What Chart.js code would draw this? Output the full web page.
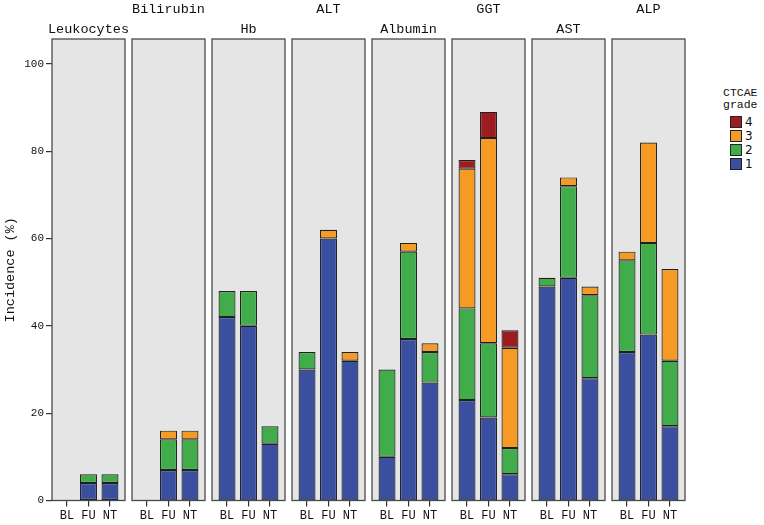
<!DOCTYPE html>
<html><head><meta charset="utf-8">
<script src="https://cdn.jsdelivr.net/npm/chart.js@4"></script>
<style>
body{margin:0;background:#fff;width:764px;height:525px;overflow:hidden;position:relative}
canvas{position:absolute;top:0}
.lg{position:absolute;font-family:'Liberation Mono',monospace;font-size:11.5px;color:#111;}
.box{position:absolute;width:10px;height:10px;border:1px solid #222;}
.lbl{position:absolute;font-family:'DejaVu Sans',sans-serif;font-size:12px;color:#111;line-height:12px}
</style></head><body>
<div id="legend"></div>
<script>
const panels = ['Leukocytes','Bilirubin','Hb','ALT','Albumin','GGT','AST','ALP'];
const timepoints = ['BL','FU','NT'];
const grades = ['1','2','3','4'];
const gradeColors = ['#3a4fa0','#40ad4a','#f59a23','#9c1c1f'];
const grade1 = [[null,4,4],[null,7,7],[42,40,13],[30,60,32],[10,37,27],[23,19,6],[49,51,28],[34,38,17]];
const grade2 = [[null,2,2],[null,7,7],[6,8,4],[4,null,null],[20,20,7],[21,17,6],[2,21,19],[21,21,15]];
const grade3 = [[null,null,null],[null,2,2],[null,null,null],[null,2,2],[null,2,2],[32,47,23],[null,2,2],[2,23,21]];
const grade4 = [[null,null,null],[null,null,null],[null,null,null],[null,null,null],[null,null,null],[2,6,4],[null,null,null],[null,null,null]];
const yTicks = [0,20,40,60,80,100];
const gradeData = [grade1, grade2, grade3, grade4];

const PANEL_LEFT0 = 52, PANEL_STEP = 80, PANEL_W = 73, TOP = 39, BOTTOM = 500.5, MARGIN = 30, XAXIS_H = 24;

const panelPlugin = {
  id: 'panel',
  beforeDraw(chart) {
    const {ctx, chartArea: a} = chart;
    ctx.save();
    ctx.fillStyle = '#e5e5e5';
    ctx.fillRect(a.left, a.top, a.right - a.left, a.bottom - a.top);
    ctx.restore();
  },
  afterDraw(chart, args, opts) {
    const {ctx, chartArea: a} = chart;
    ctx.save();
    ctx.strokeStyle = '#4a4a4a';
    ctx.lineWidth = 1.3;
    ctx.strokeRect(a.left, a.top, a.right - a.left, a.bottom - a.top);
    ctx.fillStyle = '#111';
    ctx.font = '13.5px "Liberation Mono", monospace';
    ctx.textAlign = 'center';
    ctx.textBaseline = 'middle';
    ctx.fillText(opts.title, (a.left + a.right) / 2, opts.high ? 9 : 29);
    ctx.restore();
  }
};

panels.forEach((name, i) => {
  const first = i === 0;
  const cw = first ? PANEL_LEFT0 + PANEL_W + MARGIN : PANEL_W + 2 * MARGIN;
  const canvas = document.createElement('canvas');
  canvas.width = cw; canvas.height = 525;
  canvas.style.width = cw + 'px'; canvas.style.height = '525px';
  canvas.style.left = (first ? 0 : PANEL_LEFT0 + i * PANEL_STEP - MARGIN) + 'px';
  document.body.appendChild(canvas);
  const yScale = {
    display: first, stacked: true, min: 0, max: 105.7,
    afterBuildTicks: s => { s.ticks = yTicks.map(v => ({value: v})); },
    ticks: {font: {family: '"Liberation Mono", monospace', size: 11}, color: '#111', padding: 2},
    grid: {drawOnChartArea: false, drawTicks: true, tickLength: 6, color: '#333', lineWidth: 1.2},
    border: {display: false},
    title: {display: true, text: 'Incidence (%)', font: {family: '"Liberation Mono", monospace', size: 13.5}, color: '#111', padding: {top: 2, bottom: 0}}
  };
  if (first) yScale.afterFit = s => { s.width = PANEL_LEFT0; };
  new Chart(canvas, {
    type: 'bar',
    data: {
      datasets: grades.map((g, k) => ({
        label: g,
        data: timepoints.map((t, j) => ({x: j, y: gradeData[k][i][j]})),
        backgroundColor: gradeColors[k],
        borderColor: '#202020',
        borderWidth: 1.2,
        borderSkipped: false,
        barPercentage: 0.79,
        categoryPercentage: 1
      }))
    },
    options: {
      responsive: false,
      animation: false,
      devicePixelRatio: 1,
      layout: {padding: {left: first ? 0 : MARGIN, right: MARGIN, top: TOP, bottom: 525 - BOTTOM - XAXIS_H}},
      plugins: {legend: {display: false}, tooltip: {enabled: false}, panel: {title: name, high: i % 2 === 1}},
      scales: {
        x: {
          type: 'linear', min: -0.7, max: 2.7, stacked: true, offset: false,
          afterBuildTicks: s => { s.ticks = [0, 1, 2].map(v => ({value: v})); },
          afterFit: s => { s.height = XAXIS_H; },
          ticks: {callback: v => timepoints[v], font: {family: '"Liberation Mono", monospace', size: 12}, color: '#111', padding: 2, autoSkip: false, maxRotation: 0},
          grid: {offset: false, drawOnChartArea: false, drawTicks: true, tickLength: 6, color: '#333', lineWidth: 1.2},
          border: {display: false}
        },
        y: yScale
      }
    },
    plugins: [panelPlugin]
  });
});

// legend
const lg = document.getElementById('legend');
const t1 = document.createElement('div'); t1.className = 'lg'; t1.textContent = 'CTCAE';
t1.style.left = '723px'; t1.style.top = '86px'; lg.appendChild(t1);
const t2 = document.createElement('div'); t2.className = 'lg'; t2.textContent = 'grade';
t2.style.left = '723px'; t2.style.top = '98px'; lg.appendChild(t2);
[3, 2, 1, 0].forEach((k, r) => {
  const b = document.createElement('div'); b.className = 'box';
  b.style.background = gradeColors[k]; b.style.left = '730px'; b.style.top = (116 + r * 14) + 'px';
  lg.appendChild(b);
  const l = document.createElement('div'); l.className = 'lbl'; l.textContent = grades[k];
  l.style.left = '745px'; l.style.top = (116 + r * 14) + 'px';
  lg.appendChild(l);
});
</script>
</body></html>
